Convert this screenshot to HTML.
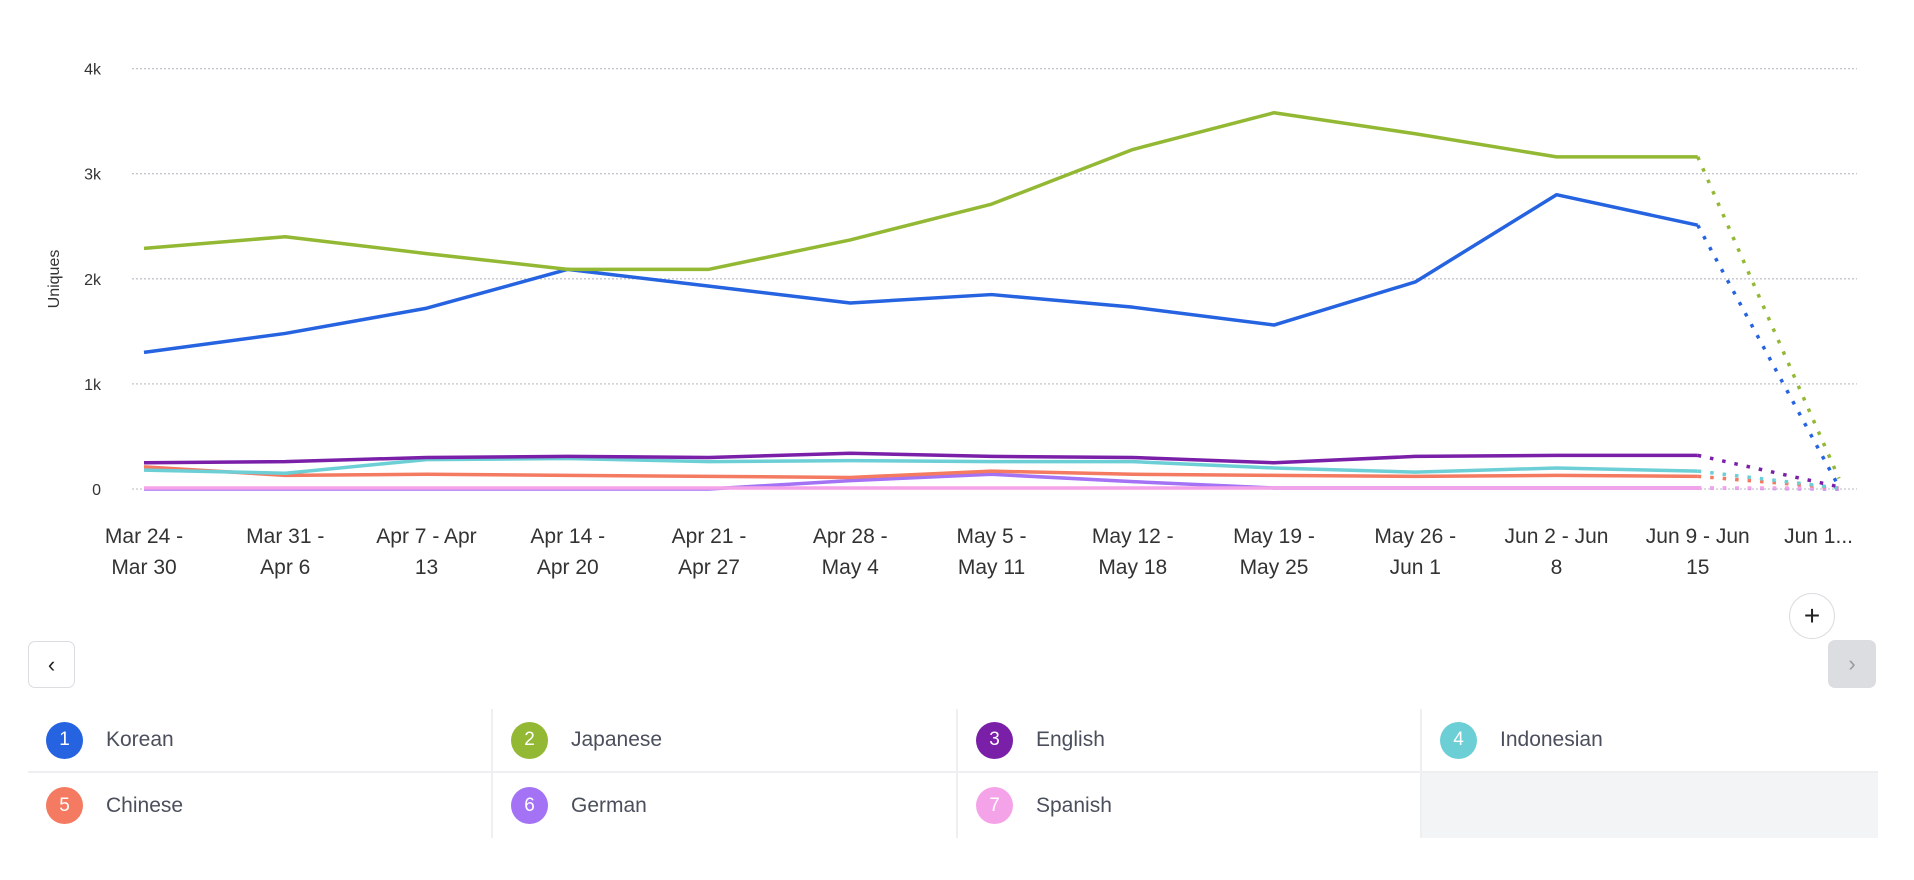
<!DOCTYPE html>
<html><head><meta charset="utf-8"><style>
body{margin:0;width:1914px;height:880px;background:#fff;font-family:"Liberation Sans",sans-serif;overflow:hidden;position:relative}
svg{position:absolute;left:0;top:0}
.btn{position:absolute;box-sizing:border-box;border-radius:7px;display:flex;align-items:center;justify-content:center}
.cell{position:absolute;box-sizing:border-box;height:65px;display:flex;align-items:center}
.dot{width:37px;height:37px;border-radius:50%;color:#fff;font-size:19px;display:flex;align-items:center;justify-content:center;margin-left:18px}
.lab{margin-left:23px;font-size:21px;color:#4b4f5c}
</style></head><body>
<svg id="chart" width="1914" height="640"></svg>
<div class="btn" style="left:28px;top:641px;width:47px;height:47px;border:1.5px solid #dcdde1;font-size:22px;color:#222">&#8249;</div>
<div class="btn" style="left:1789px;top:593px;width:46px;height:46px;border-radius:50%;border:1.5px solid #dcdde1;font-size:28px;color:#222">+</div>
<div class="btn" style="left:1828px;top:640px;width:48px;height:48px;background:#dcdde1;font-size:22px;color:#999">&#8250;</div>
<div id="legend"></div>
<script>
const categories=["Mar 24 -|Mar 30","Mar 31 -|Apr 6","Apr 7 - Apr|13","Apr 14 -|Apr 20","Apr 21 -|Apr 27","Apr 28 -|May 4","May 5 -|May 11","May 12 -|May 18","May 19 -|May 25","May 26 -|Jun 1","Jun 2 - Jun|8","Jun 9 - Jun|15","Jun 1..."];
const yTicks=[0,1000,2000,3000,4000];
const yTickLabels=["0","1k","2k","3k","4k"];
const seriesNames=["Korean","Japanese","English","Indonesian","Chinese","German","Spanish"];
const seriesColors=["#2563e0","#93b833","#7a1fa8","#6dcfd6","#f47a62","#a372f5","#f5a3e8"];
const korean=[1300,1480,1720,2090,1930,1770,1850,1730,1560,1970,2800,2510,20];
const japanese=[2290,2400,2240,2090,2090,2370,2710,3230,3580,3380,3160,3160,100];
const english=[250,260,300,310,300,340,310,300,250,310,320,320,20];
const indonesian=[180,150,280,290,260,270,260,260,200,160,200,170,10];
const chinese=[210,130,140,130,120,110,170,140,130,120,130,120,10];
const german=[0,0,0,0,0,80,140,70,10,10,10,10,0];
const spanish=[10,10,10,10,10,10,10,10,10,10,10,10,10];
const series=[korean,japanese,english,indonesian,chinese,german,spanish];

const NS="http://www.w3.org/2000/svg";
const svg=document.getElementById('chart');
const x0=144,x1=1839,yBase=489,yPer=105.1/1000;
const xs=i=>x0+(x1-x0)*i/(categories.length-1);
const ys=v=>yBase-v*yPer;
function mk(t,a){const e=document.createElementNS(NS,t);for(const k in a)e.setAttribute(k,a[k]);svg.appendChild(e);return e;}
yTicks.forEach((t,i)=>{
  const g=mk('line',{x1:132,x2:1857,y1:ys(t),y2:ys(t),stroke:'#c4c6cc','stroke-width':1.3,'stroke-dasharray':'2 2'});
  
  
  const l=mk('text',{x:101,y:ys(t)+6,'text-anchor':'end','font-size':16,fill:'#333'});
  l.textContent=yTickLabels[i];
  
  
});
const yt=mk('text',{x:0,y:0,transform:'translate(59,279) rotate(-90)','text-anchor':'middle','font-size':16,fill:'#333'});
yt.textContent='Uniques';


categories.forEach((c,i)=>{
  const parts=c.split('|');
  const last=i===categories.length-1;
  parts.forEach((p,j)=>{
    const t=mk('text',{x:last?1853:xs(i),y:543+j*31,'text-anchor':last?'end':'middle','font-size':21,fill:'#333'});
    t.textContent=p;
    
    
  });
});
const order=[5,6,4,3,2,0,1];
order.forEach(s=>{
  const d=series[s],n=d.length;
  let p='';
  for(let i=0;i<n-1;i++)p+=(i?'L':'M')+xs(i)+','+ys(d[i]);
  const ln=mk('path',{d:p,fill:'none',stroke:seriesColors[s],'stroke-width':3.5,'stroke-linejoin':'round'});
  
  
  const dl=mk('path',{d:'M'+xs(n-2)+','+ys(d[n-2])+'L'+xs(n-1)+','+ys(d[n-1]),fill:'none',stroke:seriesColors[s],'stroke-width':3.5,'stroke-dasharray':'3.5 9'});
  
  
});
const lg=document.getElementById('legend');
const cols=[28,491,956,1420,1878],rows=[709,773];
for(let i=0;i<8;i++){
  const r=Math.floor(i/4),c=i%4;
  const d=document.createElement('div');
  d.className='cell';
  d.style.left=cols[c]+'px';d.style.top=rows[r]+'px';d.style.width=(cols[c+1]-cols[c])+'px';
  d.style.height=(r?65:64)+'px';
  if(c>0)d.style.borderLeft='2px solid #eeeff1';
  if(r==0)d.style.borderBottom='2px solid #eeeff1';
  if(i<7){
    
    
    d.innerHTML='<div class="dot" style="background:'+seriesColors[i]+'">'+(i+1)+'</div><div class="lab">'+seriesNames[i]+'</div>';
  }else{
    
    
    d.style.background='#f3f4f6';
  }
  lg.appendChild(d);
}
</script>
</body></html>
